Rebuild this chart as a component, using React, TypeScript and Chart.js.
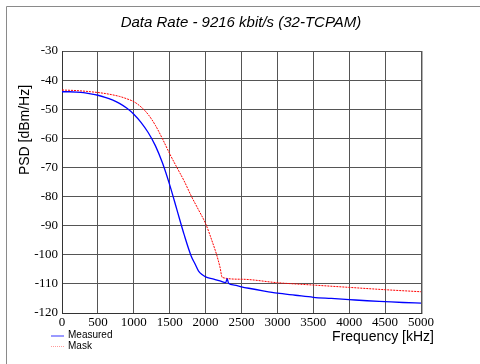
import React, { useEffect, useRef } from "react";
import { Chart, registerables } from "chart.js";

Chart.register(...registerables);

const chartTitle = "Data Rate - 9216 kbit/s (32-TCPAM)";
const xAxisTitle = "Frequency [kHz]";
const yAxisTitle = "PSD [dBm/Hz]";
const seriesNames = ["Measured", "Mask"];

const measuredFreq = [
  0, 100, 200, 300, 400, 500, 600, 700, 800, 900, 1000, 1100, 1200, 1300, 1400,
  1500, 1600, 1700, 1800, 1850, 1900, 1950, 2000, 2100, 2200, 2280, 2300, 2320,
  2400, 2500, 2600, 2800, 3000, 3250, 3500, 3750, 4000, 4250, 4500, 4750, 5000,
];
const measuredPsd = [
  -44.0, -44.0, -44.1, -44.3, -44.7, -45.2, -45.9, -46.8, -48.0, -49.6, -51.7,
  -54.5, -58.0, -62.5, -68.5, -76.0, -84.5, -93.0, -100.5, -103.0, -105.5,
  -106.8, -107.6, -108.3, -109.0, -109.6, -108.2, -109.8, -110.4, -111.0,
  -111.5, -112.4, -113.2, -113.9, -114.6, -115.0, -115.4, -115.8, -116.1,
  -116.4, -116.6,
];

const maskFreq = [
  0, 200, 400, 600, 800, 900, 1000, 1100, 1200, 1300, 1400, 1500, 1600, 1700,
  1800, 1900, 2000, 2100, 2150, 2200, 2232, 2500, 3000, 3500, 4000, 4500, 5000,
];
const maskPsd = [
  -43.4, -43.6, -44.0, -44.6, -45.6, -46.4, -47.4, -49.2, -51.8, -55.5, -60.2,
  -65.3, -70.0, -74.6, -79.8, -84.5, -89.3, -96.0, -99.7, -104.2, -107.8,
  -108.4, -109.6, -110.4, -111.2, -112.0, -112.7,
];

const xMin = 0;
const xMax = 5000;
const xStep = 500;
const yMin = -120;
const yMax = -30;
const yStep = 10;

const SANS = "'Liberation Sans', Arial, Helvetica, sans-serif";
const SERIF = "'Liberation Serif', 'Times New Roman', Times, serif";

const decorPlugin = {
  id: "decor",
  beforeDraw(chart: any) {
    const { ctx, width, height } = chart;
    ctx.save();
    ctx.fillStyle = "#ffffff";
    ctx.fillRect(0, 0, width, height);
    ctx.strokeStyle = "#8a8a8a";
    ctx.lineWidth = 1;
    ctx.beginPath();
    ctx.moveTo(6.5, height);
    ctx.lineTo(6.5, 6.5);
    ctx.lineTo(width, 6.5);
    ctx.stroke();
    ctx.restore();
  },
  afterDraw(chart: any) {
    const { ctx, chartArea } = chart;
    ctx.save();
    ctx.strokeStyle = "#b0b0b0";
    ctx.lineWidth = 1;
    ctx.beginPath();
    ctx.moveTo(chartArea.right + 1.5, chartArea.top);
    ctx.lineTo(chartArea.right + 1.5, chartArea.bottom + 1);
    ctx.stroke();

    ctx.fillStyle = "#000";
    ctx.font = `italic 15px ${SANS}`;
    ctx.textAlign = "center";
    ctx.textBaseline = "middle";
    ctx.fillText(chartTitle, 241, 23);

    ctx.font = `14px ${SANS}`;
    ctx.textAlign = "right";
    ctx.fillText(xAxisTitle, 434, 337);

    ctx.save();
    ctx.translate(25, 130);
    ctx.rotate(-Math.PI / 2);
    ctx.textAlign = "center";
    ctx.fillText(yAxisTitle, 0, 0);
    ctx.restore();

    ctx.font = `10px ${SANS}`;
    ctx.textAlign = "left";
    ctx.textBaseline = "middle";
    ctx.strokeStyle = "#9a9aff";
    ctx.lineWidth = 2;
    ctx.beginPath();
    ctx.moveTo(51, 336);
    ctx.lineTo(64, 336);
    ctx.stroke();
    ctx.fillText(seriesNames[0], 68, 335.5);
    ctx.strokeStyle = "#ff9a9a";
    ctx.lineWidth = 1;
    ctx.setLineDash([1, 1]);
    ctx.beginPath();
    ctx.moveTo(51, 346.5);
    ctx.lineTo(64, 346.5);
    ctx.stroke();
    ctx.setLineDash([]);
    ctx.fillText(seriesNames[1], 68, 346);
    ctx.restore();
  },
};

export default function App() {
  const canvasRef = useRef<HTMLCanvasElement | null>(null);

  useEffect(() => {
    let chart: Chart | null = null;
    let cancelled = false;

    const build = () => {
      if (cancelled || !canvasRef.current) return;
      const measured = measuredFreq.map((x, i) => ({ x, y: measuredPsd[i] }));
      const mask = maskFreq.map((x, i) => ({ x, y: maskPsd[i] }));

      chart = new Chart(canvasRef.current, {
        type: "line",
        data: {
          datasets: [
            {
              label: seriesNames[0],
              data: measured,
              borderColor: "#0000ff",
              borderWidth: 1.3,
              pointRadius: 0,
              cubicInterpolationMode: "monotone",
              fill: false,
            },
            {
              label: seriesNames[1],
              data: mask,
              borderColor: "#ff0000",
              borderWidth: 1,
              borderDash: [2, 1],
              pointRadius: 0,
              cubicInterpolationMode: "monotone",
              fill: false,
            },
          ],
        },
        options: {
          responsive: false,
          animation: false,
          devicePixelRatio: 1,
          layout: { padding: { top: 51, right: 59, left: 0, bottom: 0 } },
          plugins: {
            legend: { display: false },
            title: { display: false },
            tooltip: { enabled: false },
          },
          scales: {
            x: {
              type: "linear",
              min: xMin,
              max: xMax,
              afterFit: (s: any) => {
                s.height = 51;
              },
              ticks: {
                stepSize: xStep,
                autoSkip: false,
                maxRotation: 0,
                padding: 2,
                color: "#000",
                font: { family: SERIF, size: 13 },
                callback: (v: any) => String(v),
              },
              grid: { color: "#555", lineWidth: 1, drawTicks: false },
              border: { display: true, color: "#333", width: 1 },
            },
            y: {
              type: "linear",
              min: yMin,
              max: yMax,
              afterFit: (s: any) => {
                s.width = 62;
              },
              ticks: {
                stepSize: yStep,
                padding: 4,
                color: "#000",
                font: { family: SERIF, size: 13 },
                callback: (v: any) => String(v),
              },
              grid: { color: "#555", lineWidth: 1, drawTicks: false },
              border: { display: true, color: "#333", width: 1 },
            },
          },
        },
        plugins: [decorPlugin],
      });
    };

    const fonts: any = (document as any).fonts;
    if (fonts && fonts.load) {
      Promise.all([
        fonts.load(`13px 'Liberation Serif'`),
        fonts.load(`14px 'Liberation Sans'`),
        fonts.load(`italic 15px 'Liberation Sans'`),
      ])
        .catch(() => null)
        .then(build);
    } else {
      build();
    }

    return () => {
      cancelled = true;
      if (chart) chart.destroy();
    };
  }, []);

  return (
    <div style={{ position: "fixed", left: 0, top: 0, width: 480, height: 364 }}>
      <canvas ref={canvasRef} width={480} height={364} />
    </div>
  );
}
